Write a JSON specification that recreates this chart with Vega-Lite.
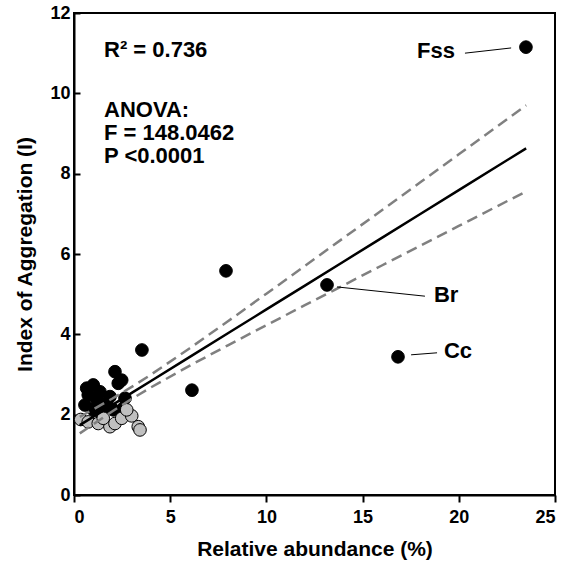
{
  "$schema": "https://vega.github.io/schema/vega-lite/v6.json",
  "width": 481,
  "height": 482,
  "autosize": "none",
  "padding": {"left": 74, "top": 13, "right": 10, "bottom": 73},
  "config": {
    "font": "Liberation Sans",
    "view": {"stroke": "black", "strokeWidth": 2},
    "axis": {
      "grid": false,
      "domainColor": "black",
      "domainWidth": 2,
      "tickColor": "black",
      "tickWidth": 2,
      "labelColor": "black",
      "titleColor": "black"
    }
  },
  "datasets": {
    "black": [
      {"x": 23.49, "y": 11.15}, {"x": 7.9, "y": 5.58}, {"x": 13.15, "y": 5.23},
      {"x": 16.84, "y": 3.44}, {"x": 6.13, "y": 2.61}, {"x": 3.53, "y": 3.61},
      {"x": 2.13, "y": 3.07}, {"x": 2.48, "y": 2.86}, {"x": 2.3, "y": 2.78},
      {"x": 1.0, "y": 2.74}, {"x": 0.66, "y": 2.66}, {"x": 1.35, "y": 2.57},
      {"x": 0.74, "y": 2.49}, {"x": 1.87, "y": 2.45}, {"x": 2.65, "y": 2.41},
      {"x": 0.57, "y": 2.24}, {"x": 1.52, "y": 2.24}, {"x": 1.0, "y": 2.12},
      {"x": 2.04, "y": 2.12}, {"x": 2.56, "y": 2.16}, {"x": 1.44, "y": 2.03},
      {"x": 1.2, "y": 2.35}, {"x": 1.7, "y": 2.3}
    ],
    "gray": [
      {"x": 0.35, "y": 1.88}, {"x": 0.74, "y": 1.82}, {"x": 1.26, "y": 1.78},
      {"x": 1.87, "y": 1.70}, {"x": 2.13, "y": 1.78}, {"x": 2.48, "y": 1.91},
      {"x": 3.0, "y": 1.97}, {"x": 3.34, "y": 1.70}, {"x": 3.43, "y": 1.62},
      {"x": 1.52, "y": 1.91}, {"x": 2.74, "y": 2.12}
    ],
    "fit": [
      {"x": 0.3, "y": 1.739, "lo": 1.534, "hi": 1.944},
      {"x": 2, "y": 2.244, "lo": 2.085, "hi": 2.403},
      {"x": 3, "y": 2.541, "lo": 2.391, "hi": 2.691},
      {"x": 4, "y": 2.838, "lo": 2.679, "hi": 2.997},
      {"x": 6, "y": 3.432, "lo": 3.216, "hi": 3.648},
      {"x": 8, "y": 4.026, "lo": 3.727, "hi": 4.325},
      {"x": 10, "y": 4.62, "lo": 4.228, "hi": 5.012},
      {"x": 12, "y": 5.214, "lo": 4.725, "hi": 5.703},
      {"x": 14, "y": 5.808, "lo": 5.22, "hi": 6.396},
      {"x": 16, "y": 6.402, "lo": 5.714, "hi": 7.09},
      {"x": 18, "y": 6.996, "lo": 6.207, "hi": 7.785},
      {"x": 20, "y": 7.59, "lo": 6.699, "hi": 8.481},
      {"x": 22, "y": 8.184, "lo": 7.191, "hi": 9.177},
      {"x": 23.5, "y": 8.63, "lo": 7.558, "hi": 9.702}
    ],
    "leaders": [
      {"x": 20.32, "y": 11.0, "x2": 22.72, "y2": 11.13},
      {"x": 13.67, "y": 5.18, "x2": 18.24, "y2": 4.95},
      {"x": 17.52, "y": 3.49, "x2": 18.87, "y2": 3.54}
    ],
    "labels": [
      {"x": 17.83, "y": 10.88, "t": "Fss"},
      {"x": 18.71, "y": 4.81, "t": "Br"},
      {"x": 19.23, "y": 3.41, "t": "Cc"},
      {"x": 1.56, "y": 10.9, "t": "R² = 0.736"},
      {"x": 1.56, "y": 9.41, "t": "ANOVA:"},
      {"x": 1.56, "y": 8.84, "t": "F = 148.0462"},
      {"x": 1.56, "y": 8.26, "t": "P <0.0001"}
    ]
  },
  "layer": [
    {
      "data": {"name": "black"},
      "mark": {"type": "point", "filled": true, "shape": "circle", "size": 160, "fill": "black", "stroke": "black", "strokeWidth": 1, "opacity": 1},
      "encoding": {
        "x": {"field": "x", "type": "quantitative", "scale": {"domain": [0, 25], "nice": false},
          "axis": {"values": [0, 5, 10, 15, 20, 25], "tickSize": 7, "labelPadding": 6,
            "labelFont": "Liberation Sans", "labelFontWeight": "bold", "labelFontSize": 18,
            "titleFont": "Liberation Sans", "titleFontWeight": "bold", "titleFontSize": 21,
            "title": "Relative abundance (%)", "titlePadding": 12}},
        "y": {"field": "y", "type": "quantitative", "scale": {"domain": [0, 12], "nice": false},
          "axis": {"values": [0, 2, 4, 6, 8, 10, 12], "tickSize": -6, "labelPadding": 10,
            "labelFont": "Liberation Sans", "labelFontWeight": "bold", "labelFontSize": 18,
            "titleFont": "Liberation Sans", "titleFontWeight": "bold", "titleFontSize": 21,
            "title": "Index of Aggregation (I)", "titlePadding": 14}}
      }
    },
    {
      "data": {"name": "gray"},
      "mark": {"type": "point", "filled": true, "shape": "circle", "size": 160, "fill": "#c0c0c0", "stroke": "black", "strokeWidth": 1, "opacity": 1},
      "encoding": {
        "x": {"field": "x", "type": "quantitative"},
        "y": {"field": "y", "type": "quantitative"}
      }
    },
    {
      "data": {"name": "fit"},
      "mark": {"type": "line", "color": "#808080", "strokeWidth": 2.5, "strokeDash": [11, 6]},
      "encoding": {
        "x": {"field": "x", "type": "quantitative"},
        "y": {"field": "hi", "type": "quantitative"}
      }
    },
    {
      "data": {"name": "fit"},
      "mark": {"type": "line", "color": "#808080", "strokeWidth": 2.5, "strokeDash": [11, 6]},
      "encoding": {
        "x": {"field": "x", "type": "quantitative"},
        "y": {"field": "lo", "type": "quantitative"}
      }
    },
    {
      "data": {"name": "fit"},
      "mark": {"type": "line", "color": "black", "strokeWidth": 2.5},
      "encoding": {
        "x": {"field": "x", "type": "quantitative"},
        "y": {"field": "y", "type": "quantitative"}
      }
    },
    {
      "data": {"name": "leaders"},
      "mark": {"type": "rule", "color": "black", "strokeWidth": 1},
      "encoding": {
        "x": {"field": "x", "type": "quantitative"},
        "y": {"field": "y", "type": "quantitative"},
        "x2": {"field": "x2"},
        "y2": {"field": "y2"}
      }
    },
    {
      "data": {"name": "labels"},
      "mark": {"type": "text", "align": "left", "baseline": "alphabetic", "fontSize": 22, "fontWeight": "bold", "font": "Liberation Sans", "color": "black"},
      "encoding": {
        "x": {"field": "x", "type": "quantitative"},
        "y": {"field": "y", "type": "quantitative"},
        "text": {"field": "t"}
      }
    }
  ]
}
